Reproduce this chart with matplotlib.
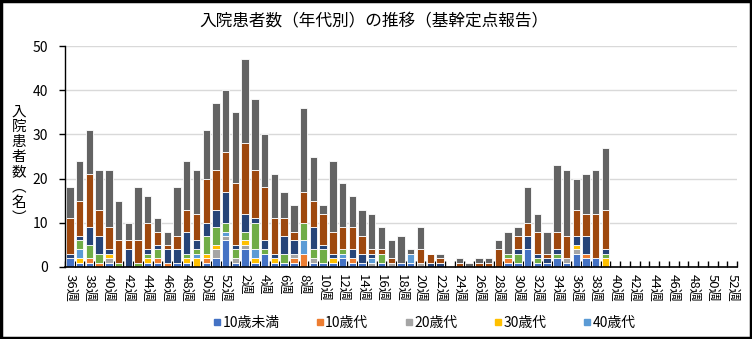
import matplotlib
matplotlib.use("Agg")
import matplotlib.pyplot as plt
from matplotlib.lines import Line2D
from matplotlib.patches import Rectangle
import numpy as np

plt.rcParams['font.family'] = ['Noto Sans CJK JP', 'DejaVu Sans']

# week categories: 36-52 then 1-52
weeks = [f"{w}週" for w in range(36, 53)] + [f"{w}週" for w in range(1, 53)]

groups = ["10歳未満", "10歳代", "20歳代", "30歳代", "40歳代",
          "50歳代", "60歳代", "70歳代", "80歳以上"]
colors = ["#4472C4", "#ED7D31", "#A5A5A5", "#FFC000", "#5B9BD5",
          "#70AD47", "#264478", "#9E480E", "#636363"]

# values (weeks with data only; remaining weeks are 0)
u10 = [2, 1, 1, 0, 1, 0, 0, 0, 1, 1, 0, 1, 1, 0, 1, 2, 6, 1, 4, 1, 3, 1, 1, 1, 0, 1, 1, 1,
       2, 1, 1, 0, 1, 0, 1, 1, 0, 0, 0, 0, 0, 0, 0, 0, 0, 1, 1, 4, 1, 1, 2, 1, 3, 2, 2, 0]
a10 = [0, 0, 1, 1, 0, 0, 0, 0, 0, 1, 1, 0, 0, 0, 1, 0, 0, 0, 0, 0, 0, 0, 0, 1, 3, 0, 0, 0,
       0, 1, 0, 0, 0, 0, 0, 0, 0, 0, 0, 0, 0, 0, 0, 0, 0, 1, 0, 0, 0, 0, 0, 0, 0, 1, 0, 0]
a20 = [0, 0, 0, 0, 1, 0, 0, 0, 0, 0, 0, 0, 0, 0, 0, 2, 1, 1, 1, 0, 0, 0, 0, 1, 0, 1, 0, 0,
       0, 0, 0, 1, 0, 1, 0, 0, 1, 0, 0, 0, 0, 0, 0, 0, 0, 0, 0, 0, 0, 0, 0, 1, 1, 0, 0, 0]
a30 = [0, 1, 0, 0, 1, 0, 0, 0, 1, 0, 0, 0, 1, 2, 1, 1, 0, 0, 1, 1, 0, 1, 0, 0, 0, 0, 0, 1,
       0, 0, 0, 0, 0, 0, 0, 0, 0, 0, 0, 0, 0, 0, 0, 0, 0, 0, 0, 0, 0, 0, 0, 0, 1, 0, 0, 2]
a40 = [0, 2, 0, 0, 0, 0, 0, 0, 0, 0, 0, 0, 0, 1, 0, 0, 1, 0, 0, 2, 0, 0, 0, 0, 3, 0, 0, 0,
       1, 0, 0, 1, 0, 0, 0, 2, 0, 0, 0, 0, 0, 0, 0, 0, 0, 0, 0, 0, 0, 0, 0, 0, 0, 0, 0, 0]
a50 = [0, 2, 3, 2, 0, 1, 0, 1, 1, 2, 0, 0, 1, 1, 4, 4, 2, 2, 2, 6, 1, 0, 2, 0, 4, 2, 3, 0,
       1, 0, 0, 0, 2, 0, 0, 0, 0, 0, 0, 0, 0, 0, 0, 0, 0, 1, 2, 0, 1, 0, 1, 0, 0, 0, 0, 1]
a60 = [1, 1, 4, 4, 1, 0, 4, 0, 1, 1, 3, 3, 5, 2, 3, 4, 7, 1, 4, 1, 2, 1, 4, 3, 0, 5, 1, 1,
       0, 2, 2, 1, 0, 0, 0, 0, 0, 1, 1, 0, 0, 0, 0, 0, 0, 0, 1, 3, 1, 1, 1, 0, 2, 4, 0, 1]
a70 = [8, 8, 12, 6, 5, 5, 2, 5, 6, 3, 1, 3, 5, 6, 10, 9, 9, 14, 16, 11, 12, 8, 4, 2, 7, 6, 7, 5,
       5, 5, 4, 1, 1, 1, 0, 0, 3, 2, 1, 0, 1, 0, 1, 1, 4, 0, 3, 3, 5, 1, 4, 5, 6, 5, 10, 9]
a80 = [7, 9, 10, 9, 13, 9, 4, 12, 6, 3, 3, 11, 11, 10, 11, 15, 14, 16, 19, 16, 12, 10, 6, 6, 19, 10, 2, 16,
       10, 7, 6, 8, 5, 4, 6, 1, 5, 0, 1, 0, 1, 1, 1, 1, 2, 5, 2, 8, 4, 5, 15, 15, 7, 9, 10, 14]

series = [u10, a10, a20, a30, a40, a50, a60, a70, a80]
n = len(weeks)
data = [np.array(s + [0] * (n - len(s)), dtype=float) for s in series]

fig = plt.figure(figsize=(7.52, 3.39), dpi=100)
ax = fig.add_axes([65 / 752, 1 - 267 / 339, (737 - 65) / 752, (267 - 46) / 339])

x = np.arange(n)
bottom = np.zeros(n)
for vals, col, name in zip(data, colors, groups):
    ax.bar(x, vals, bottom=bottom, width=0.76, color=col, edgecolor="white",
           linewidth=0.6, label=name, zorder=2)
    bottom += vals

ax.set_xlim(-0.5, n - 0.5)
ax.set_ylim(0, 50)
ax.set_yticks(range(0, 51, 10))
ax.yaxis.grid(True, color="#D9D9D9", linewidth=1, zorder=0)
ax.set_axisbelow(True)
for s in ["top", "right"]:
    ax.spines[s].set_visible(False)
ax.spines["left"].set_linewidth(1)
ax.spines["bottom"].set_linewidth(1.2)
ax.spines["left"].set_zorder(3)
ax.spines["bottom"].set_zorder(3)
ax.tick_params(axis="y", labelsize=10, length=4, width=1, direction="out", pad=8)

lab_idx = list(range(0, n, 2))
ax.set_xticks(lab_idx)
ax.set_xticklabels([weeks[i] for i in lab_idx], rotation=-90, fontsize=9.5)
ax.tick_params(axis="x", which="major", length=0, pad=5)
ax.set_xticks(np.arange(-0.5, n, 1), minor=True)
ax.tick_params(axis="x", which="minor", length=4, width=1, direction="in")

fig.text(374 / 752, 1 - 22 / 339, "入院患者数（年代別）の推移（基幹定点報告）",
         ha="center", va="center", fontsize=12)
fig.text(19 / 752, 1 - 165 / 339, "入\n院\n患\n者\n数\n︵\n名\n︶",
         ha="center", va="center", fontsize=10.5, linespacing=1.1)

handles = [Line2D([], [], marker="s", linestyle="none", markersize=5,
                  color=c) for c in colors[:5]]
fig.legend(handles, groups[:5], loc="center", ncol=5,
           bbox_to_anchor=(424 / 752, 1 - 323 / 339), frameon=False,
           fontsize=10, handlelength=0.6, handletextpad=0.1, columnspacing=2.6)

fig.add_artist(Rectangle((0.0015, 0.003), 0.997, 0.994, transform=fig.transFigure,
                         fill=False, edgecolor="black", linewidth=2.5))

fig.savefig("out.png", dpi=100)
